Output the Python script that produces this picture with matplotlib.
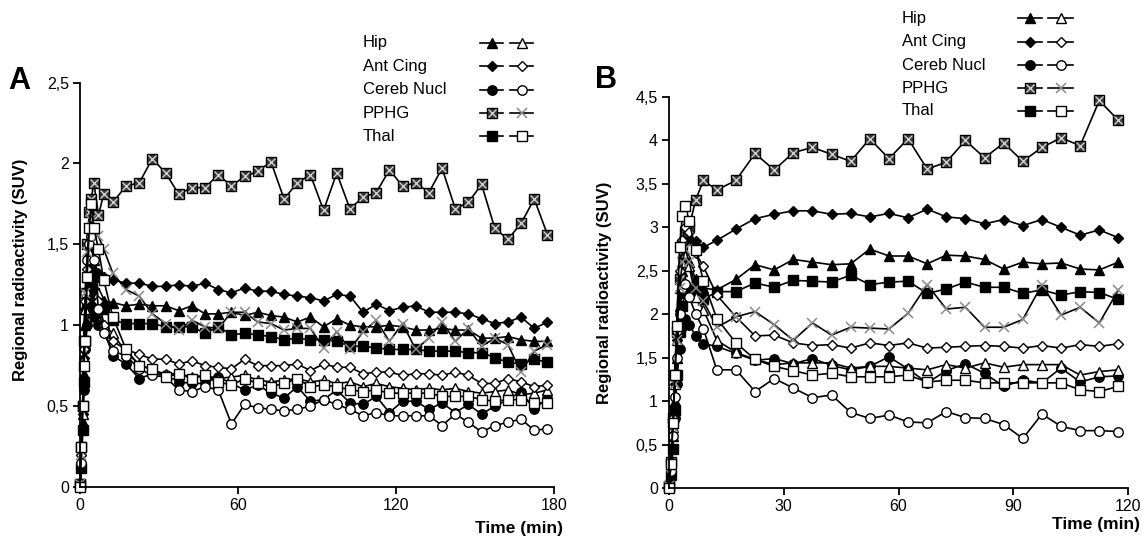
import numpy as np
import matplotlib.pyplot as plt

plt.rcParams['font.family'] = ['Liberation Sans', 'DejaVu Sans']

regions = ["Hip", "Ant Cing", "Cereb Nucl", "PPHG", "Thal"]

# sampling times (min): dense early frames, then 5 min frames
t_early = [0, 0.5, 1, 1.5, 2, 2.75, 3.5, 4.25, 5.25, 7, 9]
t_a = t_early + list(np.arange(12.5, 180, 5))
t_b = t_early + list(np.arange(12.5, 120, 5))

# ---- panel A (filled = first group, open = second group) ----
a_hip_f = [0.02, 0.15, 0.40, 0.70, 1.00, 1.20, 1.30, 1.35, 1.30, 1.20, 1.15,
           1.14, 1.12, 1.13, 1.12, 1.12, 1.09, 1.12, 1.07, 1.07, 1.08, 1.06, 1.08, 1.06, 1.05, 1.02, 1.05, 0.99,
           1.04, 1.00, 0.99, 0.99, 1.00, 0.99, 0.97, 0.97, 0.98, 0.97, 0.97, 0.92, 0.92, 0.93, 0.91, 0.90, 0.90]
a_hip_o = [0.02, 0.15, 0.45, 0.80, 1.10, 1.30, 1.45, 1.50, 1.40, 1.20, 1.00,
           0.95, 0.83, 0.76, 0.72, 0.70, 0.70, 0.68, 0.69, 0.67, 0.68, 0.69, 0.66, 0.65, 0.66, 0.67, 0.65, 0.66,
           0.64, 0.65, 0.62, 0.64, 0.62, 0.61, 0.60, 0.61, 0.60, 0.61, 0.59, 0.58, 0.59, 0.60, 0.57, 0.58, 0.60]
a_cing_f = [0.02, 0.15, 0.45, 0.80, 1.10, 1.30, 1.42, 1.45, 1.40, 1.32, 1.30,
            1.28, 1.26, 1.26, 1.24, 1.24, 1.25, 1.24, 1.26, 1.22, 1.20, 1.23, 1.21, 1.21, 1.19, 1.18, 1.17, 1.15,
            1.19, 1.18, 1.08, 1.13, 1.09, 1.11, 1.12, 1.08, 1.08, 1.08, 1.07, 1.04, 1.01, 1.02, 1.05, 0.98, 1.02]
a_cing_o = [0.02, 0.20, 0.50, 0.85, 1.15, 1.35, 1.50, 1.55, 1.40, 1.15, 1.00,
            0.90, 0.85, 0.82, 0.79, 0.79, 0.76, 0.78, 0.75, 0.74, 0.73, 0.79, 0.75, 0.75, 0.75, 0.76, 0.72, 0.76,
            0.74, 0.74, 0.70, 0.71, 0.71, 0.69, 0.70, 0.70, 0.69, 0.71, 0.69, 0.64, 0.64, 0.67, 0.65, 0.62, 0.63]
a_cereb_f = [0.02, 0.12, 0.35, 0.60, 0.85, 1.00, 1.10, 1.15, 1.05, 1.00, 0.98,
             0.81, 0.76, 0.67, 0.70, 0.69, 0.65, 0.64, 0.64, 0.68, 0.64, 0.60, 0.63, 0.58, 0.55, 0.62, 0.53, 0.54,
             0.60, 0.52, 0.51, 0.56, 0.46, 0.53, 0.53, 0.48, 0.52, 0.46, 0.51, 0.45, 0.50, 0.54, 0.59, 0.48, 0.55]
a_cereb_o = [0.02, 0.15, 0.50, 0.90, 1.20, 1.40, 1.50, 1.55, 1.40, 1.10, 0.95,
             0.84, 0.81, 0.73, 0.69, 0.68, 0.60, 0.59, 0.62, 0.60, 0.39, 0.51, 0.49, 0.48, 0.47, 0.48, 0.50, 0.54,
             0.51, 0.48, 0.44, 0.46, 0.44, 0.44, 0.44, 0.44, 0.38, 0.45, 0.40, 0.34, 0.38, 0.40, 0.42, 0.35, 0.36]
a_pphg_f = [0.02, 0.25, 0.50, 0.90, 1.20, 1.50, 1.70, 1.78, 1.88, 1.68, 1.81,
            1.76, 1.86, 1.88, 2.03, 1.94, 1.81, 1.85, 1.85, 1.93, 1.86, 1.92, 1.95, 2.01, 1.78, 1.88, 1.93, 1.71,
            1.94, 1.72, 1.79, 1.82, 1.96, 1.86, 1.88, 1.82, 1.97, 1.72, 1.76, 1.87, 1.60, 1.53, 1.63, 1.78, 1.56]
a_pphg_o = [0.02, 0.20, 0.50, 0.90, 1.20, 1.45, 1.60, 1.65, 1.60, 1.55, 1.47,
            1.32, 1.22, 1.18, 1.07, 1.01, 0.97, 1.03, 0.99, 0.98, 1.08, 1.08, 1.02, 1.01, 0.97, 0.98, 0.98, 0.86,
            0.96, 0.85, 0.96, 1.03, 0.90, 1.01, 0.85, 0.92, 1.02, 0.90, 0.98, 0.87, 0.92, 0.88, 0.71, 0.84, 0.88]
a_thal_f = [0.02, 0.12, 0.35, 0.65, 0.90, 1.10, 1.20, 1.25, 1.20, 1.13, 1.10,
            1.03, 1.01, 1.01, 1.01, 0.99, 0.99, 0.99, 0.95, 0.99, 0.94, 0.95, 0.94, 0.93, 0.91, 0.92, 0.91, 0.91,
            0.90, 0.87, 0.87, 0.86, 0.85, 0.85, 0.85, 0.84, 0.84, 0.84, 0.83, 0.83, 0.80, 0.77, 0.76, 0.79, 0.77]
a_thal_o = [0.00, 0.25, 0.50, 0.75, 0.90, 1.30, 1.60, 1.75, 1.60, 1.47, 1.28,
            1.05, 0.85, 0.75, 0.73, 0.68, 0.70, 0.67, 0.69, 0.65, 0.63, 0.67, 0.64, 0.62, 0.64, 0.67, 0.62, 0.63,
            0.62, 0.60, 0.59, 0.60, 0.58, 0.58, 0.58, 0.58, 0.56, 0.56, 0.56, 0.54, 0.53, 0.54, 0.54, 0.52, 0.52]

# ---- panel B ----
b_hip_f = [0.02, 0.20, 0.60, 1.00, 1.50, 2.10, 2.50, 2.65, 2.60, 2.40, 2.30,
           2.28, 2.40, 2.57, 2.51, 2.63, 2.60, 2.57, 2.58, 2.75, 2.67, 2.67,
           2.58, 2.68, 2.67, 2.63, 2.52, 2.60, 2.58, 2.59, 2.52, 2.51, 2.60]
b_hip_o = [0.02, 0.25, 0.70, 1.20, 1.70, 2.30, 2.60, 2.70, 2.55, 2.20, 2.05,
           1.70, 1.56, 1.48, 1.42, 1.44, 1.44, 1.44, 1.38, 1.40, 1.40, 1.38,
           1.36, 1.42, 1.38, 1.44, 1.39, 1.42, 1.42, 1.42, 1.30, 1.34, 1.36]
b_cing_f = [0.02, 0.25, 0.70, 1.20, 1.70, 2.40, 2.75, 2.90, 2.85, 2.84, 2.77,
            2.85, 2.98, 3.10, 3.15, 3.19, 3.19, 3.15, 3.16, 3.12, 3.16, 3.11,
            3.21, 3.12, 3.10, 3.04, 3.09, 3.02, 3.09, 3.00, 2.91, 2.97, 2.88]
b_cing_o = [0.02, 0.30, 0.80, 1.30, 1.80, 2.50, 2.85, 3.00, 2.95, 2.70, 2.55,
            2.22, 1.97, 1.75, 1.76, 1.67, 1.64, 1.65, 1.61, 1.67, 1.64, 1.67,
            1.61, 1.62, 1.63, 1.64, 1.63, 1.61, 1.64, 1.61, 1.65, 1.63, 1.66]
b_cereb_f = [0.02, 0.15, 0.45, 0.80, 1.20, 1.60, 1.85, 1.95, 1.88, 1.75, 1.66,
             1.63, 1.55, 1.47, 1.49, 1.43, 1.49, 1.41, 1.36, 1.40, 1.51, 1.37,
             1.21, 1.35, 1.43, 1.32, 1.17, 1.24, 1.21, 1.38, 1.22, 1.28, 1.29]
b_cereb_o = [0.02, 0.20, 0.60, 1.05, 1.50, 2.00, 2.30, 2.35, 2.20, 2.00, 1.83,
             1.36, 1.36, 1.11, 1.26, 1.15, 1.04, 1.07, 0.87, 0.80, 0.84, 0.76,
             0.75, 0.88, 0.81, 0.80, 0.73, 0.57, 0.85, 0.71, 0.66, 0.66, 0.65]
b_pphg_f = [0.02, 0.30, 0.80, 1.30, 1.80, 2.40, 2.80, 2.95, 3.00, 3.32, 3.54,
            3.43, 3.54, 3.85, 3.66, 3.86, 3.92, 3.84, 3.76, 4.02, 3.79, 4.02,
            3.67, 3.75, 4.00, 3.80, 3.97, 3.76, 3.92, 4.03, 3.94, 4.46, 4.23]
b_pphg_o = [0.02, 0.25, 0.70, 1.20, 1.70, 2.30, 2.60, 2.75, 2.60, 2.30, 2.15,
            1.85, 1.97, 2.03, 1.88, 1.70, 1.90, 1.76, 1.85, 1.84, 1.83, 2.01,
            2.34, 2.06, 2.08, 1.85, 1.85, 1.94, 2.34, 1.99, 2.08, 1.90, 2.28]
b_thal_f = [0.02, 0.15, 0.45, 0.90, 1.30, 1.80, 2.10, 2.25, 2.30, 2.29, 2.17,
            2.26, 2.26, 2.36, 2.31, 2.39, 2.38, 2.37, 2.45, 2.34, 2.37, 2.38,
            2.24, 2.29, 2.37, 2.31, 2.31, 2.24, 2.28, 2.22, 2.26, 2.25, 2.17]
b_thal_o = [0.00, 0.28, 0.75, 1.30, 1.87, 2.77, 3.13, 3.24, 3.07, 2.74, 2.38,
            1.95, 1.67, 1.48, 1.40, 1.35, 1.30, 1.32, 1.28, 1.28, 1.28, 1.30,
            1.22, 1.24, 1.24, 1.21, 1.21, 1.21, 1.21, 1.21, 1.13, 1.11, 1.17]

markers = {"Hip": ("^", 7.5), "Ant Cing": ("D", 5), "Cereb Nucl": ("o", 6.8),
           "PPHG": ("s", 7.5), "Thal": ("s", 7)}

W, H = 1142, 536


def series_style(region, filled):
    m, ms = markers[region]
    st = dict(color='k', lw=1.2, marker=m, ms=ms, mec='k', mew=1.0, clip_on=False)
    if region == "PPHG" and not filled:
        st.update(marker='x', ms=7, mec='#8a8a8a', mew=1.1)
    elif filled:
        st.update(mfc='#3a3a3a' if region == "PPHG" else 'k')
    else:
        st.update(mfc='white')
    return st


def draw(ax, t, region, y, filled):
    ax.plot(t, y, **series_style(region, filled))
    if region == "PPHG" and filled:
        # cross inside the box
        ax.plot(t, y, ls='none', marker='x', ms=5.2, mec='#cfcfcf', mew=1.0, clip_on=False)


def legend(fig, x_text, y_rows, x_filled, x_open):
    for region, yp in zip(regions, y_rows):
        yf = 1 - yp / H
        fig.text(x_text / W, yf, region, fontsize=12, va='center', ha='left')
        for (x0, x1), filled in ((x_filled, True), (x_open, False)):
            xs = [x0 / W, (x0 + x1) / 2 / W, x1 / W]
            st = series_style(region, filled)
            fig.add_artist(plt.Line2D(xs, [yf] * 3, transform=fig.transFigure, markevery=[1], **st))
            if region == "PPHG" and filled:
                fig.add_artist(plt.Line2D(xs, [yf] * 3, transform=fig.transFigure, markevery=[1], ls='none',
                                          marker='x', ms=5.2, mec='#cfcfcf', mew=1.0))


def comma(v, pos):
    return f"{v:g}".replace('.', ',')


fig = plt.figure(figsize=(W / 100, H / 100), dpi=100)
ax_a = fig.add_axes([80 / W, 1 - 487 / H, 474 / W, 404.5 / H])
ax_b = fig.add_axes([669 / W, 1 - 488 / H, 459 / W, 391 / H])

panel_a = [(a_hip_f, a_hip_o), (a_cing_f, a_cing_o), (a_cereb_f, a_cereb_o),
           (a_pphg_f, a_pphg_o), (a_thal_f, a_thal_o)]
panel_b = [(b_hip_f, b_hip_o), (b_cing_f, b_cing_o), (b_cereb_f, b_cereb_o),
           (b_pphg_f, b_pphg_o), (b_thal_f, b_thal_o)]

for ax, t, panel in ((ax_a, t_a, panel_a), (ax_b, t_b, panel_b)):
    for region, (yf, yo) in zip(regions, panel):
        draw(ax, t, region, yf, True)
    for region, (yf, yo) in zip(regions, panel):
        draw(ax, t, region, yo, False)
    for s in ('top', 'right'):
        ax.spines[s].set_visible(False)
    for s in ('left', 'bottom'):
        ax.spines[s].set_linewidth(1.3)
    ax.tick_params(direction='out', length=5, width=1.3, labelsize=11.5, pad=3)
    ax.yaxis.set_major_formatter(plt.FuncFormatter(comma))

ax_a.set_xlim(0, 180)
ax_a.set_ylim(0, 2.5)
ax_a.set_xticks([0, 60, 120, 180])
ax_a.set_yticks(np.arange(0, 2.51, 0.5))
ax_b.set_xlim(0, 120)
ax_b.set_ylim(0, 4.5)
ax_b.set_xticks([0, 30, 60, 90, 120])
ax_b.set_yticks(np.arange(0, 4.51, 0.5))

for ax, xl, yc in ((ax_a, -0.110, 0.537), (ax_b, -0.124, 0.50)):
    ax.set_ylabel('Regional radioactivity (SUV)', fontsize=12, fontweight='bold')
    ax.yaxis.set_label_coords(xl, yc)

fig.text(563 / W, 1 - 528 / H, 'Time (min)', fontsize=12.5, fontweight='bold', ha='right', va='center')
fig.text(1140 / W, 1 - 524 / H, 'Time (min)', fontsize=12.5, fontweight='bold', ha='right', va='center')
fig.text(19 / W, 1 - 81 / H, 'A', fontsize=22, fontweight='bold', ha='center', va='center')
fig.text(606 / W, 1 - 80 / H, 'B', fontsize=22, fontweight='bold', ha='center', va='center')

legend(fig, 363, [43, 66, 90, 113, 136], (480, 503), (510, 533))
legend(fig, 902, [18, 41.7, 65, 88.3, 110.7], (1018, 1042), (1048, 1073))

fig.savefig('out.png', dpi=100)
